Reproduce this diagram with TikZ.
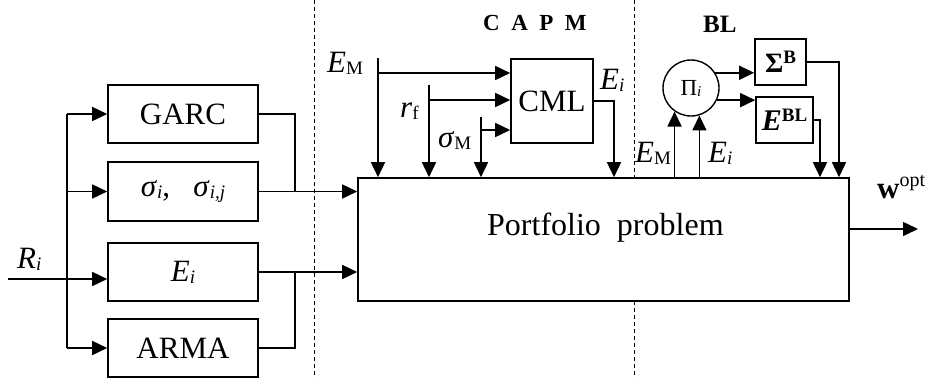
\documentclass[tikz,border=0pt]{standalone}
\usepackage{fontspec}
\setmainfont{Liberation Serif}
\usetikzlibrary{arrows.meta,positioning,calc}
\newcommand{\lo}[1]{\raisebox{-2pt}{\fontsize{19}{21}\selectfont#1}}
\newcommand{\hi}[2][9pt]{\raisebox{#1}{\fontsize{19}{21}\selectfont#2}}
\tikzset{
  blk/.style={draw, line width=1.6pt, inner sep=0pt, font=\fontsize{31}{36}\selectfont},
  lbl/.style={inner sep=0pt, font=\fontsize{31}{36}\selectfont},
  hdr/.style={inner sep=0pt, font=\fontsize{23}{26}\selectfont\bfseries},
  arr/.style={line width=1.6pt, -{Triangle[length=15pt,width=14pt]}},
  wire/.style={line width=1.6pt},
  sep/.style={line width=0.6pt, dash pattern=on 4pt off 3pt},
}
\begin{document}
\begin{tikzpicture}[x=1pt,y=-1pt]
  \useasboundingbox (0,0) rectangle (930,378);
  % section borders
  \draw[sep] (314,0) -- (314,378);
  \draw[sep] (634,0) -- (634,178);
  \draw[sep] (634,301) -- (634,378);
  % estimation blocks
  \node[blk, minimum width=150pt, minimum height=58pt] (garc) at (183,114) {GARC\hspace{8pt}};
  \node[blk, minimum width=150pt, minimum height=59pt] (sig) at (183,191.5) {\textit{σ}\lo{\itshape i},\ \ \ \textit{σ}\lo{\itshape i,j}\hspace{10pt}};
  \node[blk, minimum width=150pt, minimum height=58pt] (ei) at (183,272) {\textit{E}\lo{\itshape i}};
  \node[blk, minimum width=150pt, minimum height=58pt] (arma) at (183,348) {ARMA\hspace{8pt}};
  \node[blk, minimum width=491pt, minimum height=123pt] (main) at (603.5,239.5) {};
  \node[lbl, font=\fontsize{32}{36}\selectfont, anchor=base west] (ptitle) at (487,235) {Portfolio\ \ problem};
  % input bus
  \coordinate (rin) at (8,279);
  \coordinate (bus) at (67,0);
  \coordinate (join) at (295,0);
  \draw[arr] (rin) -- (rin -| ei.west);
  \draw[wire] (bus |- garc.west) -- (bus |- arma.west);
  \foreach \b in {garc,sig,arma}
    \draw[arr] (bus |- \b.west) -- (\b.west);
  \node[lbl, anchor=base west] (lri) at (17,268) {\textit{R}\lo{\itshape i}};
  \draw[wire] (garc.east) -| (join |- sig.east);
  \draw[wire] (arma.east) -| (join |- ei.east);
  \draw[arr] (sig.east) -- (sig.east -| main.west);
  \draw[arr] (ei.east) -- (ei.east -| main.west);
  % CAPM
  \node[hdr, anchor=base west] (capm) at (483,30) {C\enspace A\enspace P\enspace M};
  \node[blk, minimum width=82pt, minimum height=84pt] (cml) at (552,101) {CML\hspace{6pt}};
  \coordinate (em) at (378,58);   \coordinate (em-t) at (378,73);
  \coordinate (rf) at (429,85);   \coordinate (rf-t) at (429,100);
  \coordinate (sm) at (481,117);  \coordinate (sm-t) at (481,130);
  \foreach \c in {em,rf,sm}{%
    \draw[arr] (\c) -- (\c |- main.north);
    \draw[arr] (\c-t) -- (\c-t -| cml.west);
  }
  \coordinate (cmlout) at (614,0);
  \draw[arr] (cml.east) -| (cmlout |- main.north);
  \node[lbl, anchor=base west] (lem) at (327,72) {\textit{E}\lo{M}};
  \node[lbl, anchor=base west] (lrf) at (400,117) {\textit{r}\lo{f}};
  \node[lbl, anchor=base west] (lsm) at (438,147) {\textit{σ}\lo{M}};
  \node[lbl, anchor=base west] (lei) at (600,89) {\textit{E}\lo{\itshape i}};
  % BL
  \node[hdr, font=\fontsize{25}{28}\selectfont\bfseries, anchor=base west] (bl) at (703,32) {BL};
  \node[draw, circle, line width=1.4pt, minimum size=56pt, inner sep=0pt, font=\fontsize{23}{24}\selectfont] (pi) at (691,88) {Π\raisebox{-1pt}{\fontsize{15}{16}\selectfont\itshape i}};
  \node[blk, minimum width=51pt, minimum height=46pt, font=\fontsize{28}{30}\selectfont\bfseries] (sigb) at (780.5,62) {Σ\hi{B}};
  \node[blk, minimum width=57pt, minimum height=46pt, font=\fontsize{30}{30}\selectfont\bfseries] (ebl) at (784.5,120) {\textit{E}\hi{BL}};
  \draw[arr] (pi.235 |- main.north) -- (pi.235);
  \draw[arr] (pi.287 |- main.north) -- (pi.287);
  \draw[arr] (pi.32) -- (pi.32 -| sigb.west);
  \draw[arr] (pi.-25) -- (pi.-25 -| ebl.west);
  \coordinate (sbin) at (839,0);
  \coordinate (eblin) at (820,0);
  \draw[arr] (sigb.east) -| (sbin |- main.north);
  \draw[arr] (ebl.east) -| (eblin |- main.north);
  \node[lbl, anchor=base west] (lem2) at (635,162) {\textit{E}\lo{M}};
  \node[lbl, anchor=base west] (lei2) at (708,162) {\textit{E}\lo{\itshape i}};
  % output
  \coordinate (wout) at (918,229);
  \draw[arr] (wout -| main.east) -- (wout);
  \node[lbl, anchor=base west] (lw) at (877,198) {\textbf{w}\hi[12pt]{\fontsize{20}{22}\selectfont opt}};
\end{tikzpicture}
\end{document}
